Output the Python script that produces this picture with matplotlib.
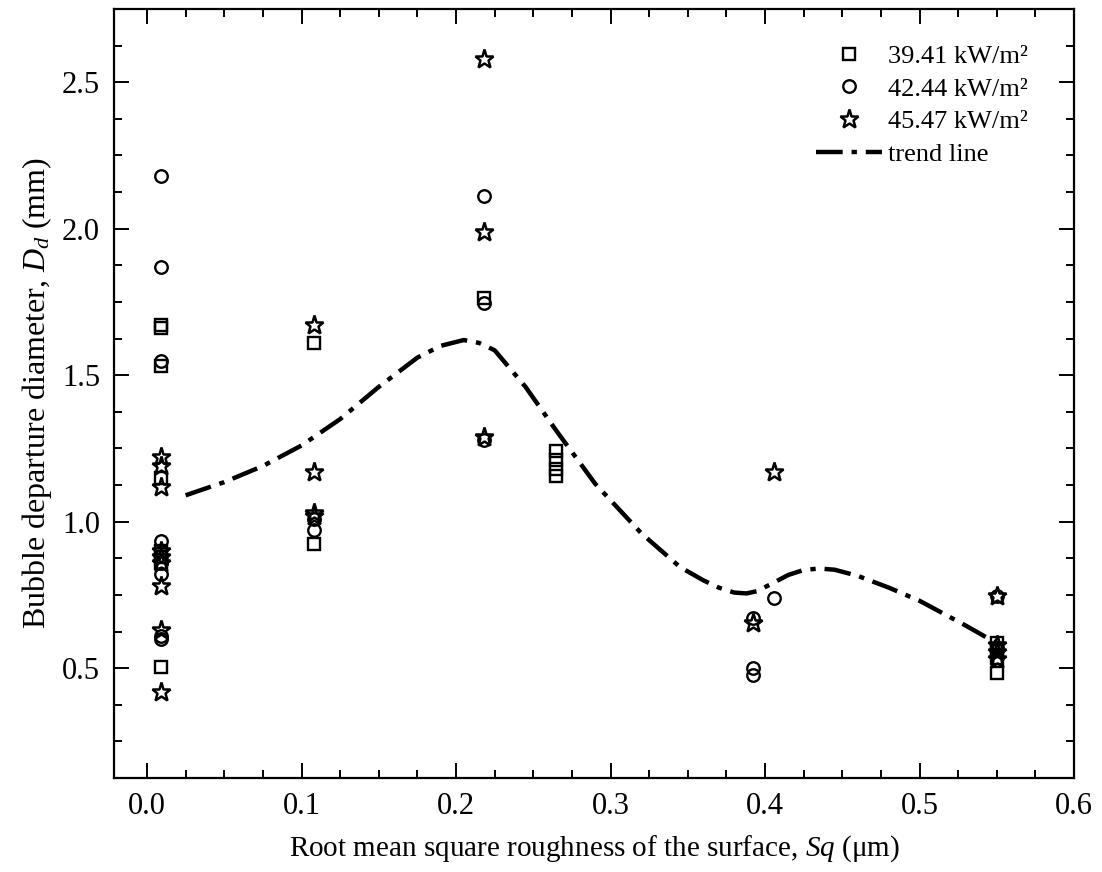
import numpy as np
import matplotlib
matplotlib.use('Agg')
import matplotlib.pyplot as plt
from matplotlib.ticker import MultipleLocator, FormatStrFormatter

plt.rcParams['font.family'] = ['Liberation Serif', 'DejaVu Serif']
plt.rcParams['mathtext.fontset'] = 'custom'
plt.rcParams['mathtext.rm'] = 'Liberation Serif'
plt.rcParams['mathtext.it'] = 'Liberation Serif:italic'

# 39.41 kW/m2 (squares)
sq1 = [0.009, 0.009, 0.009, 0.009, 0.009, 0.009, 0.009, 0.009,
       0.108, 0.108, 0.218, 0.265, 0.265, 0.265, 0.265,
       0.55, 0.55, 0.55, 0.55]
dd1 = [1.67, 1.66, 1.53, 1.15, 0.90, 0.88, 0.86, 0.505,
       1.61, 0.925, 1.765, 1.24, 1.21, 1.18, 1.155,
       0.585, 0.56, 0.535, 0.485]

# 42.44 kW/m2 (circles)
sq2 = [0.009, 0.009, 0.009, 0.009, 0.009, 0.009, 0.009, 0.009,
       0.108, 0.108, 0.218, 0.218, 0.218,
       0.392, 0.392, 0.392, 0.406, 0.55, 0.55]
dd2 = [2.18, 1.87, 1.55, 0.935, 0.86, 0.82, 0.61, 0.60,
       0.97, 1.01, 2.11, 1.745, 1.28,
       0.67, 0.50, 0.475, 0.74, 0.745, 0.57]

# 45.47 kW/m2 (stars)
sq3 = [0.009, 0.009, 0.009, 0.009, 0.009, 0.009, 0.009, 0.009, 0.009,
       0.108, 0.108, 0.108, 0.108, 0.218, 0.218, 0.218,
       0.392, 0.406, 0.55, 0.55, 0.55, 0.55]
dd3 = [1.22, 1.19, 1.12, 0.90, 0.88, 0.86, 0.78, 0.63, 0.42,
       1.67, 1.17, 1.03, 1.02, 2.58, 1.99, 1.29,
       0.655, 1.17, 0.745, 0.58, 0.555, 0.53]

# trend line
trend_x = [0.025, 0.05, 0.075, 0.10, 0.125, 0.15, 0.175, 0.19, 0.205, 0.215,
           0.225, 0.245, 0.265, 0.29, 0.32, 0.345, 0.36, 0.37, 0.38, 0.388,
           0.395, 0.405, 0.415, 0.425, 0.435, 0.445, 0.46, 0.48, 0.50, 0.53, 0.55]
trend_y = [1.09, 1.135, 1.19, 1.26, 1.35, 1.46, 1.56, 1.60, 1.62, 1.61,
           1.585, 1.46, 1.31, 1.13, 0.96, 0.845, 0.80, 0.775, 0.758, 0.755,
           0.763, 0.79, 0.818, 0.835, 0.84, 0.836, 0.815, 0.775, 0.73, 0.645, 0.585]

labels = ['39.41 kW/m\u00b2', '42.44 kW/m\u00b2', '45.47 kW/m\u00b2', 'trend line']

fig = plt.figure(figsize=(11.02, 8.72), dpi=100)
ax = fig.add_axes([0.1034, 0.1078, 0.8712, 0.8819])

ax.plot(sq1, dd1, 's', ms=8, mfc='none', mec='black', mew=1.7, ls='none', label=labels[0])
ax.plot(sq2, dd2, 'o', ms=9, mfc='none', mec='black', mew=1.7, ls='none', label=labels[1])
ax.plot(sq3, dd3, '*', ms=14, mfc='none', mec='black', mew=1.8, ls='none', label=labels[2])
ax.plot(trend_x, trend_y, color='black', lw=3.2, ls=(0, (6, 2, 1.2, 2)), label=labels[3])

ax.set_xlim(-0.0214, 0.6)
ax.set_ylim(0.125, 2.75)
ax.xaxis.set_major_locator(MultipleLocator(0.1))
ax.xaxis.set_minor_locator(MultipleLocator(0.025))
ax.xaxis.set_major_formatter(FormatStrFormatter('%.1f'))
ax.set_yticks([0.5, 1.0, 1.5, 2.0, 2.5])
ax.yaxis.set_minor_locator(MultipleLocator(0.125))
ax.yaxis.set_major_formatter(FormatStrFormatter('%.1f'))

ax.tick_params(which='both', direction='in', top=True, right=True, width=1.4)
ax.tick_params(which='major', length=11, labelsize=22, pad=10)
ax.tick_params(which='minor', length=6)
for s in ax.spines.values():
    s.set_linewidth(1.6)

ax.set_xlabel(r'Root mean square roughness of the surface, $Sq$ ($\mathrm{\mu}$m)', fontsize=21, labelpad=9)
ax.set_ylabel(r'Bubble departure diameter, $D_d$ (mm)', fontsize=23, labelpad=6)

ax.legend(loc='upper right', bbox_to_anchor=(0.9625, 0.9675), borderaxespad=0,
          frameon=False, fontsize=19, numpoints=1,
          handlelength=2.5, handletextpad=0.2, labelspacing=0.35)

fig.savefig('out.png', dpi=100)
